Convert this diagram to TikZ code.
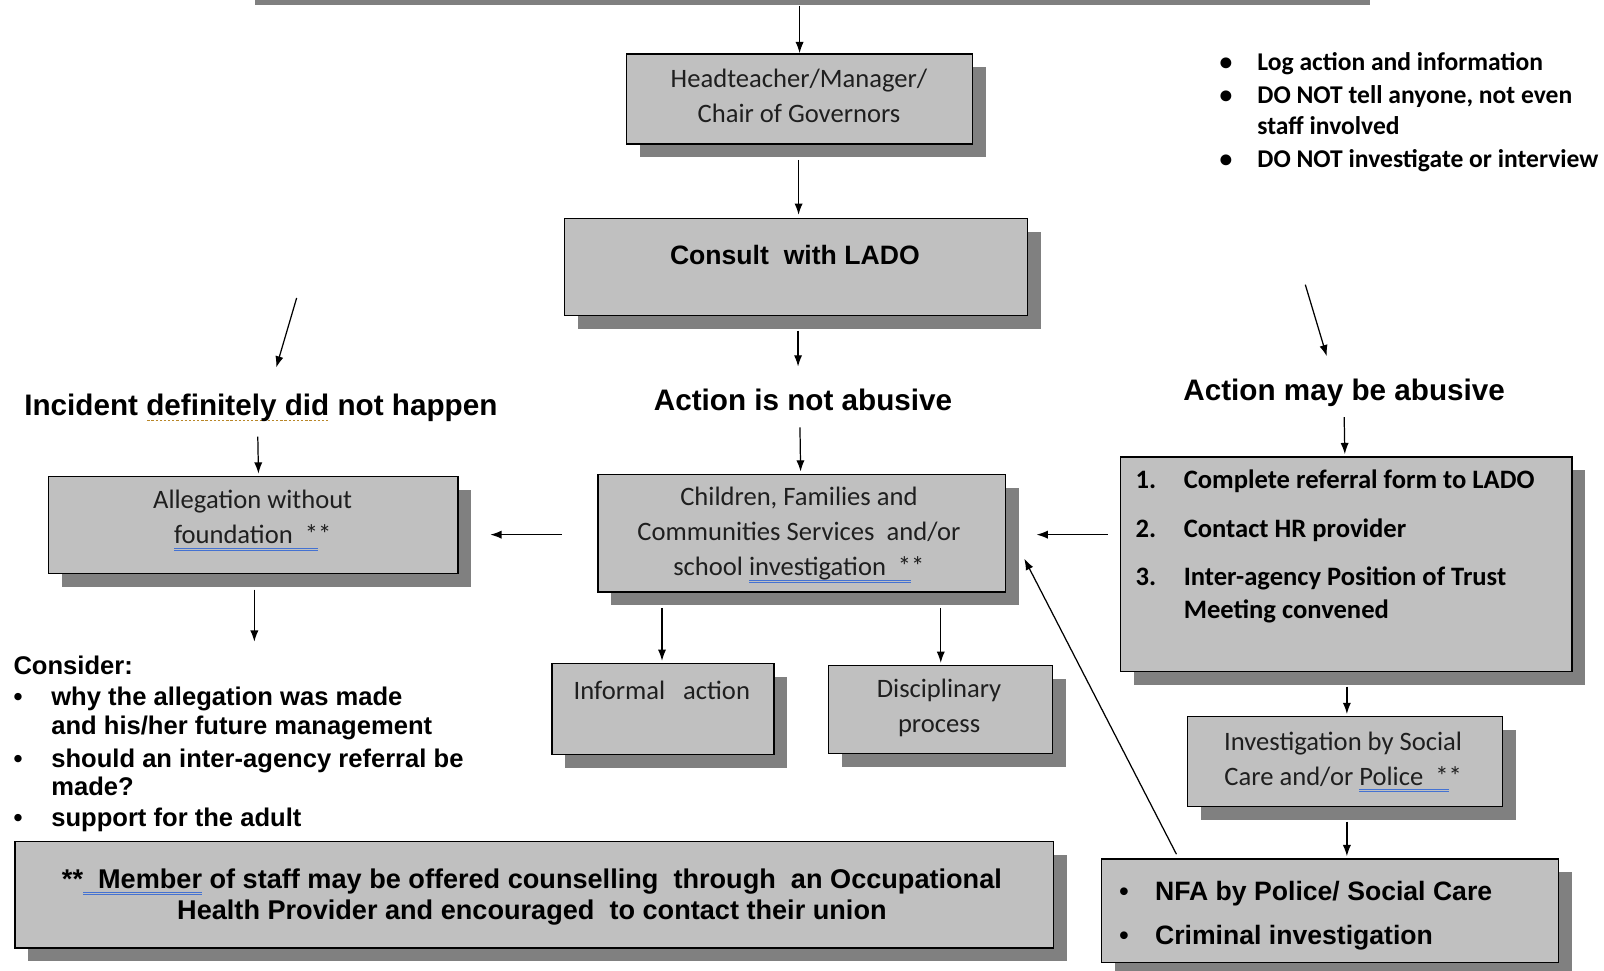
\documentclass[tikz,border=0pt]{standalone}
\usepackage{fontspec}
\setmainfont{Carlito}
\newfontfamily\arialf{Liberation Sans}
\usetikzlibrary{arrows.meta,shadows,calc}
\definecolor{boxgray}{RGB}{192,192,192}
\definecolor{shgray}{RGB}{128,128,128}
\definecolor{spellblue}{RGB}{68,114,210}
\definecolor{grammar}{RGB}{184,134,40}
\newlength\ulw
\newcommand\dblu[1]{\settowidth\ulw{#1}\rlap{\color{spellblue}\rule[-5pt]{\ulw}{0.9pt}}\rlap{\color{spellblue}\rule[-7pt]{\ulw}{0.9pt}}#1}
\newcommand\gru[1]{\settowidth\ulw{#1}\rlap{\color{grammar}\hbox to\ulw{\xleaders\hbox to 4pt{\hss\rule[-5pt]{2.2pt}{1.3pt}\hss}\hfill}}#1}
\begin{document}
\begin{tikzpicture}[x=1pt,y=-1pt,
  gbox/.style={draw=black,line width=1.3pt,fill=boxgray,inner sep=0pt,anchor=north west,
     drop shadow={shadow xshift=13pt,shadow yshift=-13pt,opacity=1,fill=shgray,draw=none}},
  arr/.style={-{Latex[length=11pt,width=8pt]},line width=1.2pt},
  caltext/.style={font=\fontsize{26}{34}\selectfont,align=center,inner sep=0pt,text=black!88},
  heading/.style={font=\arialf\bfseries\fontsize{29}{34}\selectfont,inner sep=0pt},
  blist/.style={font=\bfseries\fontsize{25}{30}\selectfont,inner sep=0pt,anchor=base west},
  alist/.style={font=\arialf\bfseries\fontsize{25}{28}\selectfont,inner sep=0pt,anchor=base west}
]
\useasboundingbox (0,0) rectangle (1568,949);
\node[fill=shgray,inner sep=0pt,minimum width=1090pt,minimum height=5pt,anchor=north west] (topbar) at (249,0) {};

\node[gbox,minimum width=338pt,minimum height=88pt] (headbox) at (612,52) {};
\node[caltext] (headtxt) at (781,94) {Headteacher/Manager/\\Chair of Governors};

\node[gbox,minimum width=453pt,minimum height=95pt] (lado) at (551,213) {};
\node[font=\arialf\bfseries\fontsize{26}{30}\selectfont,inner sep=0pt] (ladotxt) at (777,249) {Consult\ \ with LADO};

\node[heading] (notab) at (785,391) {Action is not abusive};
\node[heading] (inc) at (255,399) {Incident \gru{definitely did} not happen};
\node[heading] (mayab) at (1314,384) {Action may be abusive};

\node[blist] (notes) at (1192,69) {\begin{tabular}[t]{@{}p{37pt}@{}l@{}}
\textbullet & Log action and information\\[2pt]
\textbullet & DO NOT tell anyone, not even\\
 & staff involved\\[3pt]
\textbullet & DO NOT investigate or interview
\end{tabular}};

\node[gbox,minimum width=400pt,minimum height=95pt] (alleg) at (47,465) {};
\node[caltext] (allegtxt) at (247,509) {Allegation without\\\dblu{foundation\ \ *}*};

\node[gbox,minimum width=398pt,minimum height=115pt] (cfcs) at (584,463) {};
\node[caltext] (cfcstxt) at (781,523) {Children, Families and\\Communities Services\ \ and/or\\school \dblu{investigation\ \ *}*};

\node[gbox,minimum width=217pt,minimum height=89pt] (inf) at (539,648) {};
\node[caltext] (inftxt) at (647,675) {Informal\ \ \ action};

\node[gbox,minimum width=219pt,minimum height=86pt] (disc) at (809,650) {};
\node[caltext] (disctxt) at (918,692) {Disciplinary\\process};

\node[gbox,minimum width=441pt,minimum height=210pt] (refer) at (1095,446) {};
\node[blist,font=\bfseries\fontsize{26}{33}\selectfont] (refertxt) at (1110,478) {\begin{tabular}[t]{@{}p{47pt}@{}l@{}}
1. & Complete referral form to LADO\\[14pt]
2. & Contact HR provider\\[14pt]
3. & Inter-agency Position of Trust\\
 & Meeting convened
\end{tabular}};

\node[gbox,minimum width=308pt,minimum height=88pt] (invest) at (1160,700) {};
\node[caltext] (investtxt) at (1313,745) {Investigation by Social\\Care and/or \dblu{Police\ \ *}*};

\node[gbox,minimum width=447pt,minimum height=101pt] (nfa) at (1076,839) {};
\node[alist,font=\arialf\bfseries\fontsize{26}{28}\selectfont] (nfatxt) at (1094,880) {\begin{tabular}[t]{@{}p{35pt}@{}l@{}}
\textbullet & NFA by Police/ Social Care\\[15pt]
\textbullet & Criminal investigation
\end{tabular}};

\node[alist] (consider) at (13,659) {\begin{tabular}[t]{@{}p{37pt}@{}l@{}}
\multicolumn{2}{@{}l@{}}{Consider:}\\[3pt]
\textbullet & why the allegation was made\\
 & and his/her future management\\[4pt]
\textbullet & should an inter-agency referral be\\
 & made?\\[2pt]
\textbullet & support for the adult
\end{tabular}};

\node[gbox,minimum width=1015pt,minimum height=104pt] (foot) at (14,822) {};
\node[font=\arialf\bfseries\fontsize{26.5}{31}\selectfont,align=center,inner sep=0pt] (foottxt) at (520,877) {**\dblu{\ \ Member} of staff may be offered counselling\ \ through\ \ an Occupational\\Health Provider and encouraged\ \ to contact their union};

% connectors
\draw[arr] (topbar.south -| headbox.north) -- (headbox.north);
\draw[arr] ($(headbox.south)+(-1,15)$) -- ($(headbox.south |- lado.north)+(-1,-3)$);
\draw[arr] ($(lado.south)+(2,14)$) -- ($(lado.south)+(2,49)$);
\draw[arr] ($(notab.south)+(-3,16)$) -- ($(cfcs.north)+(-1,-2)$);
\draw[arr] ($(inc.south)+(-3,14)$) -- ($(alleg.north)+(5,-2)$);
\draw[arr] ($(alleg.south)+(1,15)$) -- ($(alleg.south)+(1,66)$);
\draw[arr] ($(cfcs.south -| inf.north)+(-1,15)$) -- ($(inf.north)+(-1,-2)$);
\draw[arr] ($(cfcs.south -| disc.north)+(0.5,15)$) -- ($(disc.north)+(0.5,-2)$);
\draw[arr] ($(cfcs.west)+(-35,1.5)$) -- ($(alleg.east |- cfcs.west)+(31,1.5)$);
\draw[arr] ($(refer.west |- cfcs.east)+(-12,1.5)$) -- ($(cfcs.east)+(30,1.5)$);
\draw[arr] ($(nfa.north west)+(74,-4)$) -- ($(cfcs.east)+(18,25)$);
\draw[arr] ($(mayab.south)+(0,10)$) -- ($(refer.north)+(-1.5,-2)$);
\draw[arr] ($(refer.south)+(0.5,14)$) -- ($(invest.north)+(2,-2)$);
\draw[arr] ($(invest.south)+(2,14)$) -- ($(invest.south |- nfa.north)+(2,-2)$);
\draw[arr] ($(inc.north)+(35,-94)$) -- ($(inc.north)+(15,-26)$);
\draw[arr] ($(mayab.north)+(-38,-92)$) -- ($(mayab.north)+(-17,-22)$);
\end{tikzpicture}
\end{document}
